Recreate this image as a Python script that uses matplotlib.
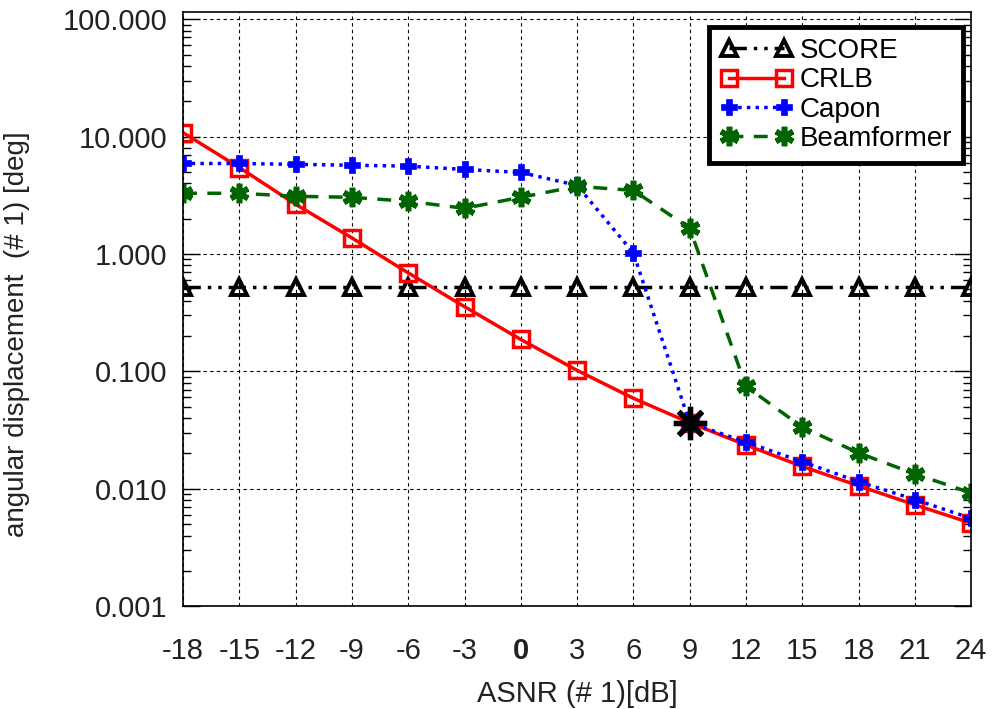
import numpy as np
import matplotlib.pyplot as plt
from matplotlib.ticker import LogLocator, FixedLocator, NullFormatter

plt.rcParams['font.family'] = ['Liberation Sans', 'DejaVu Sans']

asnr = [-18, -15, -12, -9, -6, -3, 0, 3, 6, 9, 12, 15, 18, 21, 24]
score = [0.52] * 15
crlb = [10.8, 5.45, 2.65, 1.37, 0.69, 0.356, 0.187, 0.102, 0.059, 0.0365,
        0.0236, 0.0155, 0.0106, 0.0073, 0.0051]
capon = [5.9, 5.9, 5.8, 5.7, 5.6, 5.25, 4.95, 3.84, 1.02, 0.0365,
         0.025, 0.017, 0.0115, 0.0081, 0.0056]
beam = [3.29, 3.29, 3.1, 3.04, 2.81, 2.45, 3.04, 3.77, 3.48, 1.66,
        0.0746, 0.0335, 0.0202, 0.0134, 0.0092]
star_x = 9
star_y = 0.0365
xtick_labels = ['-18', '-15', '-12', '-9', '-6', '-3', '0', '3', '6', '9',
                '12', '15', '18', '21', '24']
ytick_vals = [0.001, 0.01, 0.1, 1, 10, 100]
ytick_labels = ['0.001', '0.010', '0.100', '1.000', '10.000', '100.000']

fig = plt.figure(figsize=(9.92, 7.09), dpi=100)
ax = fig.add_axes([0.1845, 0.145, 0.7945, 0.838])

ax.plot(asnr, score, color='black', lw=2.5, ls=(0, (5, 2, 1, 2, 1, 2)),
        marker='^', ms=12, mfc='none', mec='black', mew=2.8, label='SCORE')
ax.plot(asnr, crlb, color='red', lw=2.5, ls='-',
        marker='s', ms=11, mfc='none', mec='red', mew=2.5, label='CRLB')
ax.plot(asnr, capon, color='blue', lw=2.5, ls=(0, (1, 1.5)),
        marker='P', ms=11, mfc='blue', mec='blue', mew=0.5, label='Capon')
ax.plot(asnr, beam, color='#006400', lw=2.5, ls=(0, (4, 3)),
        marker=(6, 2, 0), ms=14, mec='#006400', mew=4, label='Beamformer')
ax.plot([star_x], [star_y], ls='none', marker=(8, 2, 0), ms=24,
        mec='black', mew=3.8)

ax.set_yscale('log')
ax.set_xlim(-18, 24)
ax.set_ylim(0.001, 115)
ax.set_xticks(asnr)
ax.set_xticklabels(xtick_labels)
ax.yaxis.set_major_locator(FixedLocator(ytick_vals))
ax.set_yticklabels(ytick_labels)
ax.yaxis.set_minor_locator(LogLocator(base=10, subs=np.arange(2, 10), numticks=20))
ax.yaxis.set_minor_formatter(NullFormatter())

ax.tick_params(axis='x', length=0, labelsize=21, pad=22, labelcolor='#222222')
ax.tick_params(axis='y', which='major', direction='in', length=12, width=1,
               right=True, labelsize=21, pad=11, labelcolor='#222222')
ax.tick_params(axis='y', which='minor', direction='in', length=6, width=1,
               right=True)
ax.get_xticklabels()[6].set_fontweight('bold')

ax.grid(True, which='major', color='black', ls=(0, (3, 3)), lw=0.8)
for s in ax.spines.values():
    s.set_linewidth(1.2)

ax.set_xlabel('ASNR (# 1)[dB]', fontsize=21, labelpad=11, color='#222222')
ax.set_ylabel('angular displacement  (# 1) [deg]', fontsize=20, color='#222222')
ax.yaxis.set_label_coords(-0.194, 0.458)

leg = ax.legend(loc='upper right', bbox_to_anchor=(0.99, 0.975), numpoints=2,
                fontsize=20, frameon=True, fancybox=False, handlelength=2.6,
                handletextpad=0.25, borderpad=0.4, labelspacing=0.12,
                borderaxespad=0)
leg.get_frame().set_edgecolor('black')
leg.get_frame().set_linewidth(3.5)
leg.get_frame().set_alpha(1)

fig.savefig('out.png', dpi=100)
